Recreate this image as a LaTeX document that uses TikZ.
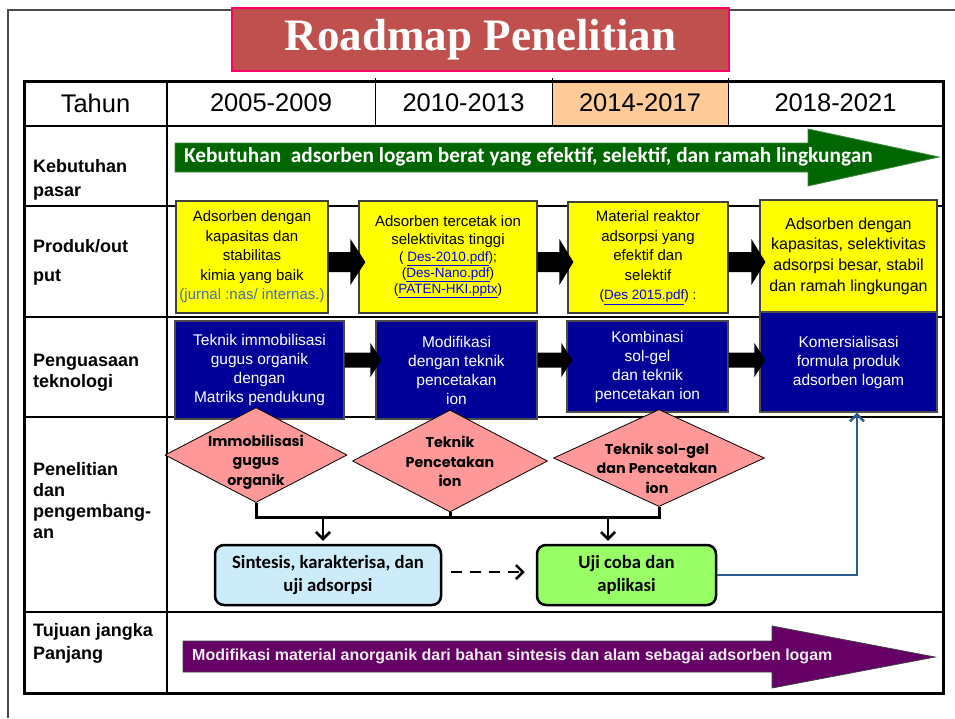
\documentclass[tikz,border=0pt]{standalone}
\usepackage{fontspec}
\setmainfont{Liberation Sans}
\newfontfamily\serifb{Liberation Serif}
\newfontfamily\calib{Carlito}
\newfontfamily\comic{Poppins}
\usetikzlibrary{shapes.geometric,arrows.meta,calc}
\definecolor{titlefill}{HTML}{C0504D}
\definecolor{titleborder}{HTML}{FF0066}
\definecolor{hdrorange}{HTML}{FFCC99}
\definecolor{arrgreen}{HTML}{006600}
\definecolor{arrgreenb}{HTML}{3C8C3C}
\definecolor{yel}{HTML}{FFFF00}
\definecolor{navy}{HTML}{000099}
\definecolor{pinkd}{HTML}{FF9999}
\definecolor{ltblue}{HTML}{CCECFA}
\definecolor{lime}{HTML}{99FF66}
\definecolor{purp}{HTML}{660066}
\definecolor{linkblue}{HTML}{0000EE}
\definecolor{slate}{HTML}{4A6FA5}
\definecolor{conblue}{HTML}{2B5B8F}
\newcommand\lnk[1]{\textcolor{linkblue}{\underline{#1}}}
% from, to, y, bodyhalf, headhalf, headbase offset, tip offset
\newcommand\fatarrow[7]{%
  \fill ($(#1.east|-0,#3)+(0,-#4)$) -- ($(#2.west|-0,#3)+(-#6,-#4)$) -- ($(#2.west|-0,#3)+(-#6,-#5)$) -- ($(#2.west|-0,#3)+(#7,0)$) -- ($(#2.west|-0,#3)+(-#6,#5)$) -- ($(#2.west|-0,#3)+(-#6,#4)$) -- ($(#1.east|-0,#3)+(0,#4)$) -- cycle;}
\begin{document}
\begin{tikzpicture}[x=1pt,y=-1pt,
  hdr/.style={font=\fontsize{25.5}{30}\selectfont, inner sep=0pt},
  rowlab/.style={font=\bfseries\fontsize{18}{22}\selectfont, align=left, anchor=west, inner sep=0pt},
  ybox/.style={draw=black!75, line width=1.2pt, fill=yel, align=center, inner sep=0pt, minimum height=112pt},
  bbox/.style={draw=black!70, line width=1.2pt, fill=navy, text=white, align=center, inner sep=0pt, font=\fontsize{15.5}{19}\selectfont},
  dmd/.style={diamond, draw=black, line width=0.8pt, fill=pinkd, inner sep=0pt},
  dtxt/.style={font=\comic\bfseries\fontsize{14.3}{19.5}\selectfont, align=center, inner sep=0pt},
  rbox/.style={draw=black, line width=2.5pt, rounded corners=9pt, align=center, inner sep=0pt, minimum height=60pt, font=\calib\bfseries\fontsize{18.7}{23}\selectfont},
  rowline/.style={line width=2.5pt},
  bar/.style={line width=3pt},
  vtip/.style={-{Straight Barb[length=7pt,width=14pt]}}
]
\useasboundingbox (0,0) rectangle (955,718);
% outer frame
\draw[line width=2.5pt, black!70] (8,718) -- (8,10) -- (955,10);
% title
\node[draw=titleborder, line width=2pt, fill=titlefill, minimum width=497pt, minimum height=63pt, inner sep=0pt, text=white, font=\serifb\bfseries\fontsize{45}{50}\selectfont] (title) at (480.5,39.5) {Roadmap Penelitian};
% table
\fill[hdrorange] (552,81) rectangle (728,126);
\draw[line width=1pt] (375,78) -- (375,126) (552,78) -- (552,126) (728,78) -- (728,126);
\draw[line width=2pt] (167,81) -- (167,693);
\foreach \yy in {126,206,317,417,612} \draw[rowline] (24,\yy) -- (943,\yy);
\draw[line width=3pt] (24,81) rectangle (943,693);
% header
\node[hdr] (h0) at (95.5,103) {Tahun};
\node[hdr] (h1) at (271,103) {2005-2009};
\node[hdr] (h2) at (463.5,103) {2010-2013};
\node[hdr] (h3) at (640,103) {2014-2017};
\node[hdr] (h4) at (835.5,103) {2018-2021};
% row labels
\node[rowlab, font=\bfseries\fontsize{18}{24}\selectfont] (l1) at (33,180) {Kebutuhan\\pasar};
\node[rowlab, font=\bfseries\fontsize{18}{29}\selectfont] (l2) at (33,262.5) {Produk/out\\put};
\node[rowlab, font=\bfseries\fontsize{18}{21}\selectfont] (l3) at (33,372.5) {Penguasaan\\teknologi};
\node[rowlab, font=\bfseries\fontsize{18}{21}\selectfont] (l4) at (33,501) {Penelitian\\dan\\pengembang-\\an};
\node[rowlab, font=\bfseries\fontsize{18}{23}\selectfont] (l5) at (33,643.5) {Tujuan jangka\\Panjang};
% green arrow
\filldraw[fill=arrgreen, draw=arrgreenb, line width=0.8pt] (175,143) -- (808,143) -- (808,129) -- (939,157) -- (808,186) -- (808,172) -- (175,172) -- cycle;
\node[anchor=west, inner sep=0pt, text=white, font=\calib\bfseries\fontsize{21.3}{24}\selectfont] (gtxt) at (184,157) {Kebutuhan~ adsorben logam berat yang efektif, selektif, dan ramah lingkungan};
% purple arrow
\filldraw[fill=purp, draw=black!75, line width=0.8pt] (183,641) -- (772,641) -- (772,626) -- (935,657) -- (772,688) -- (772,672) -- (183,672) -- cycle;
\node[anchor=west, inner sep=0pt, text=white!92!black, font=\bfseries\fontsize{16}{19}\selectfont] (ptxt) at (192,656) {Modifikasi material anorganik dari bahan sintesis dan alam sebagai adsorben logam};
% yellow boxes
\node[ybox, minimum width=152pt, font=\fontsize{15}{19.5}\selectfont] (y1) at (252,257) {Adsorben dengan\\kapasitas dan\\stabilitas\\kimia yang baik\\\textcolor{slate}{(jurnal :nas/ internas.)}};
\node[ybox, minimum width=178pt, font=\fontsize{15}{18}\selectfont] (y2) at (448,257) {Adsorben tercetak ion\\selektivitas tinggi\\[-1.5pt]{\fontsize{13.5}{16}\selectfont( \lnk{Des-2010.pdf});}\\[-2pt]{\fontsize{13.5}{16}\selectfont(\lnk{Des-Nano.pdf})}\\[-2pt]{\fontsize{13.5}{16}\selectfont(\lnk{PATEN-HKI.pptx})}};
\node[ybox, minimum width=160pt, minimum height=111pt, font=\fontsize{15}{19.5}\selectfont] (y3) at (648,257.5) {Material reaktor\\adsorpsi yang\\efektif dan\\selektif\\{\fontsize{13.5}{16}\selectfont(\lnk{Des 2015.pdf}) :}};
\node[ybox, minimum width=177pt, font=\fontsize{16}{20.7}\selectfont] (y4) at (848.5,256) {Adsorben dengan\\kapasitas, selektivitas\\adsorpsi besar, stabil\\dan ramah lingkungan};
% blue boxes
\node[bbox, minimum width=169pt, minimum height=98pt] (b1) at (259.5,370) {Teknik immobilisasi\\gugus organik\\dengan\\Matriks pendukung};
\node[bbox, minimum width=161pt, minimum height=98pt] (b2) at (456.5,370) {Modifikasi\\dengan teknik\\pencetakan\\ion};
\node[bbox, minimum width=161pt, minimum height=91pt] (b3) at (647.5,366.5) {Kombinasi\\sol-gel\\dan teknik\\pencetakan ion};
\node[bbox, minimum width=177pt, minimum height=100pt] (b4) at (848.5,362) {Komersialisasi\\formula produk\\adsorben logam};
% fat arrows
\fatarrow{y1}{y2}{262}{10}{23}{8}{7}
\fatarrow{y2}{y3}{262}{10}{23}{8}{6}
\fatarrow{y3}{y4}{262}{10}{23}{8}{6}
\fatarrow{b1}{b2}{360}{7.5}{17}{5}{6}
\fatarrow{b2}{b3}{360}{7.5}{17}{5}{6}
\fatarrow{b3}{b4}{360}{7.5}{17}{5}{6}
% diamonds
\node[dmd, minimum width=182pt, minimum height=95pt] (d1) at (256,455) {};
\node[dtxt] (t1) at (256,462) {Immobilisasi\\gugus\\organik};
\node[dmd, minimum width=195pt, minimum height=102pt] (d2) at (450,461) {};
\node[dtxt] (t2) at (450,461.5) {Teknik\\Pencetakan\\ion};
\node[dmd, minimum width=211pt, minimum height=97pt] (d3) at (659,458) {};
\node[dtxt] (t3) at (657,468) {Teknik sol-gel\\dan Pencetakan\\ion};
% bar
\draw[bar] (d1.south) -- (d1.south |- 0,517) -- (d3.south |- 0,517) -- (d3.south);
\draw[bar] (d2.south) -- (d2.south |- 0,517);
% rounded boxes
\node[rbox, fill=ltblue, minimum width=226pt] (sint) at (328,575) {Sintesis, karakterisa, dan\\uji adsorpsi};
\node[rbox, fill=lime, minimum width=179pt] (uji) at (626.5,575) {Uji coba dan\\aplikasi};
\coordinate (j1) at (323,517);
\coordinate (j2) at (608,517);
\draw[line width=2.5pt, vtip, shorten >=3pt] (j1) -- (j1 |- sint.north);
\draw[line width=2.5pt, vtip, shorten >=3pt] (j2) -- (j2 |- uji.north);
\draw[line width=2.5pt, dash pattern=on 11pt off 8pt, vtip, shorten <=9pt, shorten >=11pt] (sint.east |- 0,572) -- (uji.west |- 0,572);
\coordinate (k) at (857,575);
\draw[line width=2.5pt, conblue, vtip] (uji.east) -- (k) -- (k |- b4.south);
\end{tikzpicture}
\end{document}
